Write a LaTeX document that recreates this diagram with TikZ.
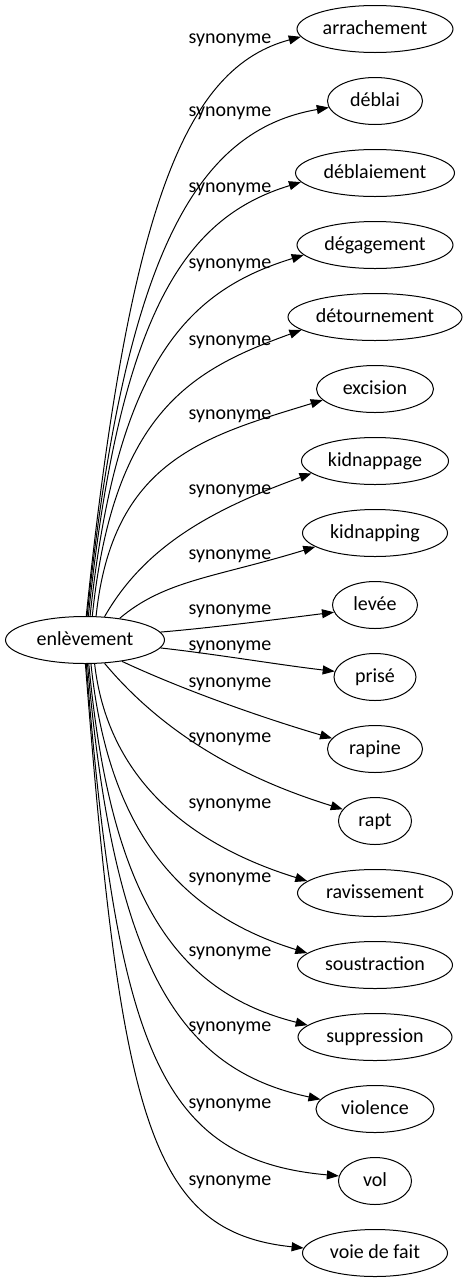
\documentclass[tikz,border=0pt]{standalone}
\usepackage{fontspec}
\setmainfont{Carlito}
\usetikzlibrary{shapes.geometric,arrows.meta}

\begin{document}
\begin{tikzpicture}[x=1pt,y=1pt,
    term/.style={draw=black, ellipse, line width=1pt, inner sep=0pt, minimum height=47pt,
        text height=14pt, text depth=4pt, font=\fontsize{20pt}{24pt}\selectfont},
    lbl/.style={inner sep=0pt, text height=14pt, text depth=4pt, font=\fontsize{20pt}{24pt}\selectfont},
    syn/.style={draw=black, line width=1pt, -{Triangle[length=12pt,width=9pt]}}]
    \useasboundingbox (0,0) rectangle (466,-1283);
    \node [term, minimum width=159pt] (enl) at (85,-640) {enlèvement};
    \node [term, minimum width=156pt] (arrach) at (375,-29) {arrachement};
    \node [term, minimum width=95pt] (deblai) at (375,-101) {déblai};
    \node [term, minimum width=159pt] (deblaiem) at (375,-173) {déblaiement};
    \node [term, minimum width=156pt] (degag) at (375,-245) {dégagement};
    \node [term, minimum width=174pt] (detour) at (375,-317) {détournement};
    \node [term, minimum width=117pt] (excis) at (375,-389) {excision};
    \node [term, minimum width=147pt] (kidnappage) at (375,-461) {kidnappage};
    \node [term, minimum width=145pt] (kidnapping) at (375,-533) {kidnapping};
    \node [term, minimum width=85pt] (levee) at (375,-605) {levée};
    \node [term, minimum width=82pt] (prise) at (375,-677) {prisé};
    \node [term, minimum width=95pt] (rapine) at (375,-749) {rapine};
    \node [term, minimum width=73pt] (rapt) at (375,-821) {rapt};
    \node [term, minimum width=155pt] (raviss) at (375,-893) {ravissement};
    \node [term, minimum width=155pt] (soustr) at (375,-965) {soustraction};
    \node [term, minimum width=154pt] (suppr) at (375,-1037) {suppression};
    \node [term, minimum width=118pt] (violence) at (375,-1109) {violence};
    \node [term, minimum width=73pt] (vol) at (375,-1181) {vol};
    \node [term, minimum width=145pt] (voie) at (375,-1253) {voie de fait};
    \node [lbl] (s1) at (230,-38) {synonyme};
    \node [lbl] (s2) at (230,-111) {synonyme};
    \node [lbl] (s3) at (230,-187) {synonyme};
    \node [lbl] (s4) at (230,-263) {synonyme};
    \node [lbl] (s5) at (230,-340) {synonyme};
    \node [lbl] (s6) at (230,-414) {synonyme};
    \node [lbl] (s7) at (230,-489) {synonyme};
    \node [lbl] (s8) at (230,-554) {synonyme};
    \node [lbl] (s9) at (230,-609) {synonyme};
    \node [lbl] (s10) at (230,-645) {synonyme};
    \node [lbl] (s11) at (230,-682) {synonyme};
    \node [lbl] (s12) at (230,-737) {synonyme};
    \node [lbl] (s13) at (230,-803) {synonyme};
    \node [lbl] (s14) at (230,-877) {synonyme};
    \node [lbl] (s15) at (230,-951) {synonyme};
    \node [lbl] (s16) at (230,-1026) {synonyme};
    \node [lbl] (s17) at (230,-1103) {synonyme};
    \node [lbl] (s18) at (230,-1180) {synonyme};
    \draw [syn] (enl.87) .. controls (129.5,-199.4) and (187,-67.5) .. (arrach.186);
    \draw [syn] (enl.85) .. controls (125,-250) and (198,-130) .. (deblai.188);
    \draw [syn] (enl.82) .. controls (120.6,-303.8) and (189.2,-216.4) .. (deblaiem.187);
    \draw [syn] (enl.78) .. controls (117,-356.4) and (191.6,-289.5) .. (degag.188);
    \draw [syn] (enl.73) .. controls (113.5,-410.4) and (193,-369.3) .. (detour.190);
    \draw [syn] (enl.65) .. controls (112.3,-460.8) and (203.6,-436.5) .. (excis.192);
    \draw [syn] (enl.50) .. controls (144,-547.7) and (208.6,-510.6) .. (kidnappage.191);
    \draw [syn] (enl.32) .. controls (165,-580) and (214.6,-577.6) .. (kidnapping.193);
    \draw [syn] (enl.6) .. controls (210,-628) and (280,-619) .. (levee.190);
    \draw [syn] (enl.354) .. controls (215,-654) and (280,-665) .. (prise.172);
    \draw [syn] (enl.330) .. controls (184.4,-690.6) and (265.3,-718.7) .. (rapine.166);
    \draw [syn] (enl.310) .. controls (174.7,-747.3) and (266.5,-785.6) .. (rapt.160);
    \draw [syn] (enl.292) .. controls (107,-772) and (181,-842) .. (raviss.170);
    \draw [syn] (enl.284) .. controls (108.4,-831) and (179.4,-913.7) .. (soustr.170);
    \draw [syn] (enl.279) .. controls (110.7,-898.3) and (176.2,-992.1) .. (suppr.170);
    \draw [syn] (enl.276) .. controls (113.7,-968.6) and (179.4,-1069.4) .. (violence.170);
    \draw [syn] (enl.273) .. controls (116.8,-1047.8) and (160,-1160) .. (vol.172);
    \draw [syn] (enl.271) .. controls (120.6,-1119) and (150,-1232) .. (voie.176);
\end{tikzpicture}
\end{document}
